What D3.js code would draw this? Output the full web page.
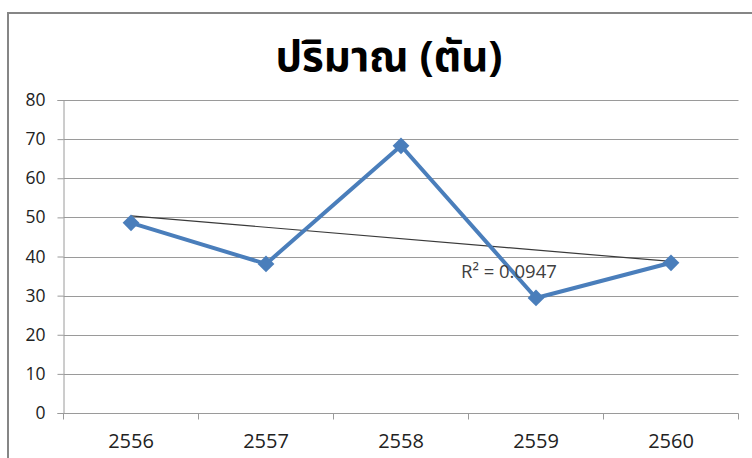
<!DOCTYPE html>
<html>
<head>
<meta charset="utf-8">
<script src="https://cdn.jsdelivr.net/npm/d3@7"></script>
<style>
  html, body { margin: 0; padding: 0; background: #fff; }
  svg { display: block; }
</style>
</head>
<body>
<svg id="chart" width="752" height="458"></svg>
<script>
const titleText = "ปริมาณ (ตัน)";
const categories = ["2556", "2557", "2558", "2559", "2560"];
const values = [48.6, 38.1, 68.3, 29.4, 38.4];
const yTicks = [0, 10, 20, 30, 40, 50, 60, 70, 80];
const r2Label = "R² = 0.0947";

const svg = d3.select("#chart");
const plot = { left: 63.5, right: 738.5, top: 100, bottom: 413 };

// frame (extends past right and bottom edges)
svg.append("rect")
  .attr("x", 8).attr("y", 13)
  .attr("width", 900).attr("height", 600)
  .attr("fill", "#fff").attr("stroke", "#868686").attr("stroke-width", 2);

const x = d3.scaleBand().domain(categories).range([plot.left, plot.right]).padding(0);
const y = d3.scaleLinear().domain([0, 80]).range([plot.bottom, plot.top]);
const cx = d => x(d) + x.bandwidth() / 2;

// gridlines
svg.append("g")
  .selectAll("line").data(yTicks.filter(t => t > 0)).join("line")
  .attr("x1", plot.left).attr("x2", plot.right)
  .attr("y1", d => Math.round(y(d)) + 0.5).attr("y2", d => Math.round(y(d)) + 0.5)
  .attr("stroke", "#9a9a9a").attr("stroke-width", 1);

// y axis
const yAxis = d3.axisLeft(y).tickValues(yTicks).tickSize(6).tickPadding(12);
const gy = svg.append("g").attr("transform", `translate(${plot.left},0)`).call(yAxis);
gy.select(".domain").attr("stroke", "#9a9a9a");
gy.selectAll(".tick line").attr("stroke", "#9a9a9a");
gy.selectAll(".tick text")
  .attr("font-family", "'Open Sans', 'Noto Sans', sans-serif")
  .attr("font-size", 17.5).attr("fill", "#222");

// x axis with ticks between categories
const xAxisG = svg.append("g").attr("transform", `translate(0,${Math.round(y(0)) + 0.5})`);
xAxisG.append("line").attr("x1", plot.left).attr("x2", plot.right)
  .attr("stroke", "#9a9a9a");
const bounds = categories.map(c => x(c)).concat([x(categories[categories.length - 1]) + x.bandwidth()]);
xAxisG.selectAll("line.tk").data(bounds).join("line").attr("class", "tk")
  .attr("x1", d => d).attr("x2", d => d).attr("y1", 0).attr("y2", 6)
  .attr("stroke", "#9a9a9a");
xAxisG.selectAll("text").data(categories).join("text")
  .attr("x", d => cx(d)).attr("y", 34)
  .attr("text-anchor", "middle")
  .attr("font-family", "'Open Sans', 'Noto Sans', sans-serif")
  .attr("font-size", 20).attr("fill", "#222")
  .text(d => d);

// trendline (least squares on index)
const n = values.length;
const xs = values.map((_, i) => i + 1);
const mx = d3.mean(xs), my = d3.mean(values);
const slope = d3.sum(xs.map((xi, i) => (xi - mx) * (values[i] - my))) / d3.sum(xs.map(xi => (xi - mx) ** 2));
const intercept = my - slope * mx;
svg.append("line")
  .attr("x1", cx(categories[0])).attr("y1", y(intercept + slope * 1))
  .attr("x2", cx(categories[n - 1])).attr("y2", y(intercept + slope * n))
  .attr("stroke", "#3a3a3a").attr("stroke-width", 1.2);

// series line
svg.append("path")
  .datum(values)
  .attr("d", d3.line().x((d, i) => cx(categories[i])).y(d => y(d)))
  .attr("fill", "none").attr("stroke", "#4a7ebb").attr("stroke-width", 4)
  .attr("stroke-linejoin", "round");

// markers
svg.append("g").selectAll("path").data(values).join("path")
  .attr("d", d3.symbol().type(d3.symbolSquare).size(140))
  .attr("transform", (d, i) => `translate(${cx(categories[i])},${y(d)}) rotate(45)`)
  .attr("fill", "#4a7ebb");

// R² label
svg.append("text")
  .attr("x", 461).attr("y", 278)
  .attr("font-family", "'Open Sans', 'Noto Sans', sans-serif")
  .attr("font-size", 18.5).attr("fill", "#404040")
  .text(r2Label);

// title
svg.append("text")
  .attr("x", 389).attr("y", 71)
  .attr("text-anchor", "middle")
  .attr("font-family", "'Noto Sans Thai', 'Noto Sans', Tahoma, sans-serif")
  .attr("font-weight", "bold")
  .attr("font-size", 42).attr("fill", "#000")
  .text(titleText);
</script>
</body>
</html>
